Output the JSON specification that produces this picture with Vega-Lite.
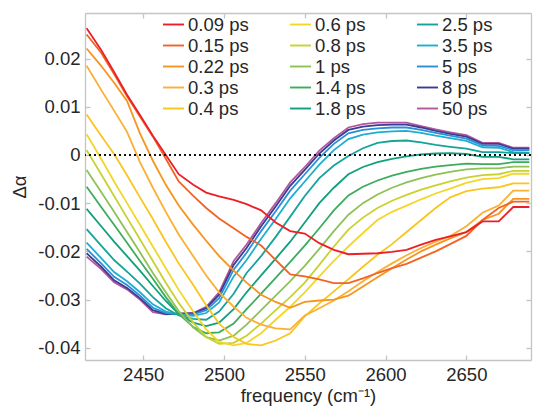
{
"$schema": "https://vega.github.io/schema/vega-lite/v6.json",
"width": 446, "height": 347,
"autosize": "none",
"padding": {"left": 85, "top": 13, "right": 2, "bottom": 47},
"background": "white",
"config": {
  "view": {"stroke": null},
  "font": "Liberation Sans",
  "axis": {"domainColor": "#c4c4c4", "domainWidth": 1.3, "tickColor": "#c4c4c4", "tickWidth": 1.3, "tickSize": -5, "grid": false,
           "labelFont": "Liberation Sans", "labelFontSize": 18.5, "labelColor": "#262626",
           "titleFont": "Liberation Sans", "titleFontSize": 18.5, "titleFontWeight": "normal", "titleColor": "#262626"}
},
"datasets": {"d": [
{"t":"50 ps","f":2415,"v":-0.0211},{"t":"50 ps","f":2424,"v":-0.0237},{"t":"50 ps","f":2432,"v":-0.0264},{"t":"50 ps","f":2440,"v":-0.0279},{"t":"50 ps","f":2448,"v":-0.0300},{"t":"50 ps","f":2456,"v":-0.0326},{"t":"50 ps","f":2464,"v":-0.0331},{"t":"50 ps","f":2472,"v":-0.0329},{"t":"50 ps","f":2481,"v":-0.0328},{"t":"50 ps","f":2489,"v":-0.0315},{"t":"50 ps","f":2497,"v":-0.0285},{"t":"50 ps","f":2506,"v":-0.0220},{"t":"50 ps","f":2514,"v":-0.0186},{"t":"50 ps","f":2523,"v":-0.0141},{"t":"50 ps","f":2532,"v":-0.0100},{"t":"50 ps","f":2541,"v":-0.0057},{"t":"50 ps","f":2550,"v":-0.0025},{"t":"50 ps","f":2559,"v":0.0009},{"t":"50 ps","f":2568,"v":0.0035},{"t":"50 ps","f":2577,"v":0.0057},{"t":"50 ps","f":2586,"v":0.0064},{"t":"50 ps","f":2595,"v":0.0067},{"t":"50 ps","f":2604,"v":0.0067},{"t":"50 ps","f":2613,"v":0.0067},{"t":"50 ps","f":2622,"v":0.0060},{"t":"50 ps","f":2631,"v":0.0053},{"t":"50 ps","f":2640,"v":0.0047},{"t":"50 ps","f":2650,"v":0.0041},{"t":"50 ps","f":2660,"v":0.0025},{"t":"50 ps","f":2670,"v":0.0025},{"t":"50 ps","f":2679,"v":0.0015},{"t":"50 ps","f":2689,"v":0.0015},
{"t":"8 ps","f":2415,"v":-0.0204},{"t":"8 ps","f":2424,"v":-0.0232},{"t":"8 ps","f":2432,"v":-0.0260},{"t":"8 ps","f":2440,"v":-0.0276},{"t":"8 ps","f":2448,"v":-0.0297},{"t":"8 ps","f":2456,"v":-0.0322},{"t":"8 ps","f":2464,"v":-0.0330},{"t":"8 ps","f":2472,"v":-0.0330},{"t":"8 ps","f":2481,"v":-0.0329},{"t":"8 ps","f":2489,"v":-0.0318},{"t":"8 ps","f":2497,"v":-0.0290},{"t":"8 ps","f":2506,"v":-0.0228},{"t":"8 ps","f":2514,"v":-0.0193},{"t":"8 ps","f":2523,"v":-0.0148},{"t":"8 ps","f":2532,"v":-0.0107},{"t":"8 ps","f":2541,"v":-0.0064},{"t":"8 ps","f":2550,"v":-0.0031},{"t":"8 ps","f":2559,"v":0.0003},{"t":"8 ps","f":2568,"v":0.0030},{"t":"8 ps","f":2577,"v":0.0052},{"t":"8 ps","f":2586,"v":0.0059},{"t":"8 ps","f":2595,"v":0.0062},{"t":"8 ps","f":2604,"v":0.0063},{"t":"8 ps","f":2613,"v":0.0063},{"t":"8 ps","f":2622,"v":0.0057},{"t":"8 ps","f":2631,"v":0.0050},{"t":"8 ps","f":2640,"v":0.0044},{"t":"8 ps","f":2650,"v":0.0038},{"t":"8 ps","f":2660,"v":0.0023},{"t":"8 ps","f":2670,"v":0.0023},{"t":"8 ps","f":2679,"v":0.0013},{"t":"8 ps","f":2689,"v":0.0013},
{"t":"5 ps","f":2415,"v":-0.0195},{"t":"5 ps","f":2424,"v":-0.0225},{"t":"5 ps","f":2432,"v":-0.0253},{"t":"5 ps","f":2440,"v":-0.0270},{"t":"5 ps","f":2448,"v":-0.0292},{"t":"5 ps","f":2456,"v":-0.0317},{"t":"5 ps","f":2464,"v":-0.0328},{"t":"5 ps","f":2472,"v":-0.0331},{"t":"5 ps","f":2481,"v":-0.0331},{"t":"5 ps","f":2489,"v":-0.0322},{"t":"5 ps","f":2497,"v":-0.0297},{"t":"5 ps","f":2506,"v":-0.0238},{"t":"5 ps","f":2514,"v":-0.0203},{"t":"5 ps","f":2523,"v":-0.0158},{"t":"5 ps","f":2532,"v":-0.0117},{"t":"5 ps","f":2541,"v":-0.0074},{"t":"5 ps","f":2550,"v":-0.0040},{"t":"5 ps","f":2559,"v":-0.0006},{"t":"5 ps","f":2568,"v":0.0023},{"t":"5 ps","f":2577,"v":0.0045},{"t":"5 ps","f":2586,"v":0.0052},{"t":"5 ps","f":2595,"v":0.0055},{"t":"5 ps","f":2604,"v":0.0057},{"t":"5 ps","f":2613,"v":0.0057},{"t":"5 ps","f":2622,"v":0.0052},{"t":"5 ps","f":2631,"v":0.0046},{"t":"5 ps","f":2640,"v":0.0040},{"t":"5 ps","f":2650,"v":0.0034},{"t":"5 ps","f":2660,"v":0.0020},{"t":"5 ps","f":2670,"v":0.0019},{"t":"5 ps","f":2679,"v":0.0010},{"t":"5 ps","f":2689,"v":0.0010},
{"t":"3.5 ps","f":2415,"v":-0.0182},{"t":"3.5 ps","f":2424,"v":-0.0214},{"t":"3.5 ps","f":2432,"v":-0.0243},{"t":"3.5 ps","f":2440,"v":-0.0262},{"t":"3.5 ps","f":2448,"v":-0.0285},{"t":"3.5 ps","f":2456,"v":-0.0310},{"t":"3.5 ps","f":2464,"v":-0.0325},{"t":"3.5 ps","f":2472,"v":-0.0331},{"t":"3.5 ps","f":2481,"v":-0.0334},{"t":"3.5 ps","f":2489,"v":-0.0328},{"t":"3.5 ps","f":2497,"v":-0.0306},{"t":"3.5 ps","f":2506,"v":-0.0252},{"t":"3.5 ps","f":2514,"v":-0.0218},{"t":"3.5 ps","f":2523,"v":-0.0174},{"t":"3.5 ps","f":2532,"v":-0.0133},{"t":"3.5 ps","f":2541,"v":-0.0090},{"t":"3.5 ps","f":2550,"v":-0.0055},{"t":"3.5 ps","f":2559,"v":-0.0020},{"t":"3.5 ps","f":2568,"v":0.0010},{"t":"3.5 ps","f":2577,"v":0.0033},{"t":"3.5 ps","f":2586,"v":0.0042},{"t":"3.5 ps","f":2595,"v":0.0047},{"t":"3.5 ps","f":2604,"v":0.0049},{"t":"3.5 ps","f":2613,"v":0.0050},{"t":"3.5 ps","f":2622,"v":0.0046},{"t":"3.5 ps","f":2631,"v":0.0040},{"t":"3.5 ps","f":2640,"v":0.0035},{"t":"3.5 ps","f":2650,"v":0.0029},{"t":"3.5 ps","f":2660,"v":0.0016},{"t":"3.5 ps","f":2670,"v":0.0015},{"t":"3.5 ps","f":2679,"v":0.0006},{"t":"3.5 ps","f":2689,"v":0.0005},
{"t":"2.5 ps","f":2415,"v":-0.0154},{"t":"2.5 ps","f":2424,"v":-0.0188},{"t":"2.5 ps","f":2432,"v":-0.0218},{"t":"2.5 ps","f":2440,"v":-0.0242},{"t":"2.5 ps","f":2448,"v":-0.0267},{"t":"2.5 ps","f":2456,"v":-0.0295},{"t":"2.5 ps","f":2464,"v":-0.0318},{"t":"2.5 ps","f":2472,"v":-0.0333},{"t":"2.5 ps","f":2481,"v":-0.0340},{"t":"2.5 ps","f":2489,"v":-0.0342},{"t":"2.5 ps","f":2497,"v":-0.0325},{"t":"2.5 ps","f":2506,"v":-0.0288},{"t":"2.5 ps","f":2514,"v":-0.0245},{"t":"2.5 ps","f":2523,"v":-0.0210},{"t":"2.5 ps","f":2532,"v":-0.0170},{"t":"2.5 ps","f":2541,"v":-0.0128},{"t":"2.5 ps","f":2550,"v":-0.0085},{"t":"2.5 ps","f":2559,"v":-0.0048},{"t":"2.5 ps","f":2568,"v":-0.0022},{"t":"2.5 ps","f":2577,"v":-0.0002},{"t":"2.5 ps","f":2586,"v":0.0014},{"t":"2.5 ps","f":2595,"v":0.0025},{"t":"2.5 ps","f":2604,"v":0.0029},{"t":"2.5 ps","f":2613,"v":0.0030},{"t":"2.5 ps","f":2622,"v":0.0026},{"t":"2.5 ps","f":2631,"v":0.0021},{"t":"2.5 ps","f":2640,"v":0.0017},{"t":"2.5 ps","f":2650,"v":0.0013},{"t":"2.5 ps","f":2660,"v":0.0006},{"t":"2.5 ps","f":2670,"v":0.0006},{"t":"2.5 ps","f":2679,"v":0.0004},{"t":"2.5 ps","f":2689,"v":0.0004},
{"t":"1.8 ps","f":2415,"v":-0.0112},{"t":"1.8 ps","f":2424,"v":-0.0148},{"t":"1.8 ps","f":2432,"v":-0.0180},{"t":"1.8 ps","f":2440,"v":-0.0210},{"t":"1.8 ps","f":2448,"v":-0.0240},{"t":"1.8 ps","f":2456,"v":-0.0272},{"t":"1.8 ps","f":2464,"v":-0.0303},{"t":"1.8 ps","f":2472,"v":-0.0330},{"t":"1.8 ps","f":2481,"v":-0.0348},{"t":"1.8 ps","f":2489,"v":-0.0355},{"t":"1.8 ps","f":2497,"v":-0.0348},{"t":"1.8 ps","f":2506,"v":-0.0320},{"t":"1.8 ps","f":2514,"v":-0.0285},{"t":"1.8 ps","f":2523,"v":-0.0250},{"t":"1.8 ps","f":2532,"v":-0.0215},{"t":"1.8 ps","f":2541,"v":-0.0180},{"t":"1.8 ps","f":2550,"v":-0.0140},{"t":"1.8 ps","f":2559,"v":-0.0100},{"t":"1.8 ps","f":2568,"v":-0.0068},{"t":"1.8 ps","f":2577,"v":-0.0040},{"t":"1.8 ps","f":2586,"v":-0.0025},{"t":"1.8 ps","f":2595,"v":-0.0015},{"t":"1.8 ps","f":2604,"v":-0.0008},{"t":"1.8 ps","f":2613,"v":-0.0003},{"t":"1.8 ps","f":2622,"v":0.0001},{"t":"1.8 ps","f":2631,"v":0.0003},{"t":"1.8 ps","f":2640,"v":0.0004},{"t":"1.8 ps","f":2650,"v":0.0002},{"t":"1.8 ps","f":2660,"v":-0.0004},{"t":"1.8 ps","f":2670,"v":-0.0004},{"t":"1.8 ps","f":2679,"v":-0.0009},{"t":"1.8 ps","f":2689,"v":-0.0009},
{"t":"1.4 ps","f":2415,"v":-0.0066},{"t":"1.4 ps","f":2424,"v":-0.0108},{"t":"1.4 ps","f":2432,"v":-0.0145},{"t":"1.4 ps","f":2440,"v":-0.0182},{"t":"1.4 ps","f":2448,"v":-0.0220},{"t":"1.4 ps","f":2456,"v":-0.0257},{"t":"1.4 ps","f":2464,"v":-0.0295},{"t":"1.4 ps","f":2472,"v":-0.0330},{"t":"1.4 ps","f":2481,"v":-0.0357},{"t":"1.4 ps","f":2489,"v":-0.0370},{"t":"1.4 ps","f":2497,"v":-0.0368},{"t":"1.4 ps","f":2506,"v":-0.0350},{"t":"1.4 ps","f":2514,"v":-0.0320},{"t":"1.4 ps","f":2523,"v":-0.0288},{"t":"1.4 ps","f":2532,"v":-0.0255},{"t":"1.4 ps","f":2541,"v":-0.0222},{"t":"1.4 ps","f":2550,"v":-0.0188},{"t":"1.4 ps","f":2559,"v":-0.0152},{"t":"1.4 ps","f":2568,"v":-0.0115},{"t":"1.4 ps","f":2577,"v":-0.0084},{"t":"1.4 ps","f":2586,"v":-0.0066},{"t":"1.4 ps","f":2595,"v":-0.0053},{"t":"1.4 ps","f":2604,"v":-0.0043},{"t":"1.4 ps","f":2613,"v":-0.0035},{"t":"1.4 ps","f":2622,"v":-0.0029},{"t":"1.4 ps","f":2631,"v":-0.0024},{"t":"1.4 ps","f":2640,"v":-0.0021},{"t":"1.4 ps","f":2650,"v":-0.0018},{"t":"1.4 ps","f":2660,"v":-0.0019},{"t":"1.4 ps","f":2670,"v":-0.0019},{"t":"1.4 ps","f":2679,"v":-0.0015},{"t":"1.4 ps","f":2689,"v":-0.0015},
{"t":"1 ps","f":2415,"v":-0.0031},{"t":"1 ps","f":2424,"v":-0.0077},{"t":"1 ps","f":2432,"v":-0.0118},{"t":"1 ps","f":2440,"v":-0.0160},{"t":"1 ps","f":2448,"v":-0.0202},{"t":"1 ps","f":2456,"v":-0.0245},{"t":"1 ps","f":2464,"v":-0.0285},{"t":"1 ps","f":2472,"v":-0.0324},{"t":"1 ps","f":2481,"v":-0.0358},{"t":"1 ps","f":2489,"v":-0.0378},{"t":"1 ps","f":2497,"v":-0.0385},{"t":"1 ps","f":2506,"v":-0.0375},{"t":"1 ps","f":2514,"v":-0.0352},{"t":"1 ps","f":2523,"v":-0.0322},{"t":"1 ps","f":2532,"v":-0.0292},{"t":"1 ps","f":2541,"v":-0.0262},{"t":"1 ps","f":2550,"v":-0.0230},{"t":"1 ps","f":2559,"v":-0.0195},{"t":"1 ps","f":2568,"v":-0.0158},{"t":"1 ps","f":2577,"v":-0.0124},{"t":"1 ps","f":2586,"v":-0.0100},{"t":"1 ps","f":2595,"v":-0.0082},{"t":"1 ps","f":2604,"v":-0.0068},{"t":"1 ps","f":2613,"v":-0.0057},{"t":"1 ps","f":2622,"v":-0.0048},{"t":"1 ps","f":2631,"v":-0.0041},{"t":"1 ps","f":2640,"v":-0.0035},{"t":"1 ps","f":2650,"v":-0.0030},{"t":"1 ps","f":2660,"v":-0.0028},{"t":"1 ps","f":2670,"v":-0.0028},{"t":"1 ps","f":2679,"v":-0.0024},{"t":"1 ps","f":2689,"v":-0.0024},
{"t":"0.8 ps","f":2415,"v":0.0010},{"t":"0.8 ps","f":2424,"v":-0.0040},{"t":"0.8 ps","f":2432,"v":-0.0085},{"t":"0.8 ps","f":2440,"v":-0.0130},{"t":"0.8 ps","f":2448,"v":-0.0175},{"t":"0.8 ps","f":2456,"v":-0.0220},{"t":"0.8 ps","f":2464,"v":-0.0265},{"t":"0.8 ps","f":2472,"v":-0.0307},{"t":"0.8 ps","f":2481,"v":-0.0348},{"t":"0.8 ps","f":2489,"v":-0.0378},{"t":"0.8 ps","f":2497,"v":-0.0392},{"t":"0.8 ps","f":2506,"v":-0.0390},{"t":"0.8 ps","f":2514,"v":-0.0375},{"t":"0.8 ps","f":2523,"v":-0.0350},{"t":"0.8 ps","f":2532,"v":-0.0322},{"t":"0.8 ps","f":2541,"v":-0.0295},{"t":"0.8 ps","f":2550,"v":-0.0265},{"t":"0.8 ps","f":2559,"v":-0.0228},{"t":"0.8 ps","f":2568,"v":-0.0190},{"t":"0.8 ps","f":2577,"v":-0.0155},{"t":"0.8 ps","f":2586,"v":-0.0130},{"t":"0.8 ps","f":2595,"v":-0.0110},{"t":"0.8 ps","f":2604,"v":-0.0095},{"t":"0.8 ps","f":2613,"v":-0.0083},{"t":"0.8 ps","f":2622,"v":-0.0072},{"t":"0.8 ps","f":2631,"v":-0.0063},{"t":"0.8 ps","f":2640,"v":-0.0055},{"t":"0.8 ps","f":2650,"v":-0.0047},{"t":"0.8 ps","f":2660,"v":-0.0042},{"t":"0.8 ps","f":2670,"v":-0.0040},{"t":"0.8 ps","f":2679,"v":-0.0033},{"t":"0.8 ps","f":2689,"v":-0.0033},
{"t":"0.6 ps","f":2415,"v":0.0043},{"t":"0.6 ps","f":2424,"v":-0.0008},{"t":"0.6 ps","f":2432,"v":-0.0055},{"t":"0.6 ps","f":2440,"v":-0.0100},{"t":"0.6 ps","f":2448,"v":-0.0145},{"t":"0.6 ps","f":2456,"v":-0.0190},{"t":"0.6 ps","f":2464,"v":-0.0235},{"t":"0.6 ps","f":2472,"v":-0.0280},{"t":"0.6 ps","f":2481,"v":-0.0325},{"t":"0.6 ps","f":2489,"v":-0.0362},{"t":"0.6 ps","f":2497,"v":-0.0388},{"t":"0.6 ps","f":2506,"v":-0.0395},{"t":"0.6 ps","f":2514,"v":-0.0390},{"t":"0.6 ps","f":2523,"v":-0.0370},{"t":"0.6 ps","f":2532,"v":-0.0342},{"t":"0.6 ps","f":2541,"v":-0.0315},{"t":"0.6 ps","f":2550,"v":-0.0285},{"t":"0.6 ps","f":2559,"v":-0.0252},{"t":"0.6 ps","f":2568,"v":-0.0220},{"t":"0.6 ps","f":2577,"v":-0.0190},{"t":"0.6 ps","f":2586,"v":-0.0162},{"t":"0.6 ps","f":2595,"v":-0.0135},{"t":"0.6 ps","f":2604,"v":-0.0118},{"t":"0.6 ps","f":2613,"v":-0.0105},{"t":"0.6 ps","f":2622,"v":-0.0092},{"t":"0.6 ps","f":2631,"v":-0.0080},{"t":"0.6 ps","f":2640,"v":-0.0070},{"t":"0.6 ps","f":2650,"v":-0.0058},{"t":"0.6 ps","f":2660,"v":-0.0050},{"t":"0.6 ps","f":2670,"v":-0.0048},{"t":"0.6 ps","f":2679,"v":-0.0039},{"t":"0.6 ps","f":2689,"v":-0.0039},
{"t":"0.4 ps","f":2415,"v":0.0084},{"t":"0.4 ps","f":2424,"v":0.0040},{"t":"0.4 ps","f":2432,"v":0.0002},{"t":"0.4 ps","f":2440,"v":-0.0042},{"t":"0.4 ps","f":2448,"v":-0.0088},{"t":"0.4 ps","f":2456,"v":-0.0133},{"t":"0.4 ps","f":2464,"v":-0.0180},{"t":"0.4 ps","f":2472,"v":-0.0225},{"t":"0.4 ps","f":2481,"v":-0.0270},{"t":"0.4 ps","f":2489,"v":-0.0312},{"t":"0.4 ps","f":2497,"v":-0.0350},{"t":"0.4 ps","f":2506,"v":-0.0378},{"t":"0.4 ps","f":2514,"v":-0.0392},{"t":"0.4 ps","f":2523,"v":-0.0395},{"t":"0.4 ps","f":2532,"v":-0.0385},{"t":"0.4 ps","f":2541,"v":-0.0370},{"t":"0.4 ps","f":2550,"v":-0.0335},{"t":"0.4 ps","f":2559,"v":-0.0308},{"t":"0.4 ps","f":2568,"v":-0.0283},{"t":"0.4 ps","f":2577,"v":-0.0258},{"t":"0.4 ps","f":2586,"v":-0.0232},{"t":"0.4 ps","f":2595,"v":-0.0207},{"t":"0.4 ps","f":2604,"v":-0.0185},{"t":"0.4 ps","f":2613,"v":-0.0160},{"t":"0.4 ps","f":2622,"v":-0.0135},{"t":"0.4 ps","f":2631,"v":-0.0110},{"t":"0.4 ps","f":2640,"v":-0.0088},{"t":"0.4 ps","f":2650,"v":-0.0075},{"t":"0.4 ps","f":2660,"v":-0.0070},{"t":"0.4 ps","f":2670,"v":-0.0067},{"t":"0.4 ps","f":2679,"v":-0.0059},{"t":"0.4 ps","f":2689,"v":-0.0059},
{"t":"0.3 ps","f":2415,"v":0.0185},{"t":"0.3 ps","f":2424,"v":0.0135},{"t":"0.3 ps","f":2432,"v":0.0092},{"t":"0.3 ps","f":2440,"v":0.0048},{"t":"0.3 ps","f":2448,"v":-0.0015},{"t":"0.3 ps","f":2456,"v":-0.0068},{"t":"0.3 ps","f":2464,"v":-0.0118},{"t":"0.3 ps","f":2472,"v":-0.0165},{"t":"0.3 ps","f":2481,"v":-0.0210},{"t":"0.3 ps","f":2489,"v":-0.0250},{"t":"0.3 ps","f":2497,"v":-0.0285},{"t":"0.3 ps","f":2506,"v":-0.0315},{"t":"0.3 ps","f":2514,"v":-0.0338},{"t":"0.3 ps","f":2523,"v":-0.0352},{"t":"0.3 ps","f":2532,"v":-0.0360},{"t":"0.3 ps","f":2541,"v":-0.0362},{"t":"0.3 ps","f":2550,"v":-0.0333},{"t":"0.3 ps","f":2559,"v":-0.0318},{"t":"0.3 ps","f":2568,"v":-0.0302},{"t":"0.3 ps","f":2577,"v":-0.0283},{"t":"0.3 ps","f":2586,"v":-0.0262},{"t":"0.3 ps","f":2595,"v":-0.0243},{"t":"0.3 ps","f":2604,"v":-0.0225},{"t":"0.3 ps","f":2613,"v":-0.0208},{"t":"0.3 ps","f":2622,"v":-0.0193},{"t":"0.3 ps","f":2631,"v":-0.0180},{"t":"0.3 ps","f":2640,"v":-0.0168},{"t":"0.3 ps","f":2650,"v":-0.0148},{"t":"0.3 ps","f":2660,"v":-0.0120},{"t":"0.3 ps","f":2670,"v":-0.0105},{"t":"0.3 ps","f":2679,"v":-0.0074},{"t":"0.3 ps","f":2689,"v":-0.0074},
{"t":"0.22 ps","f":2415,"v":0.0221},{"t":"0.22 ps","f":2424,"v":0.0185},{"t":"0.22 ps","f":2432,"v":0.0150},{"t":"0.22 ps","f":2440,"v":0.0112},{"t":"0.22 ps","f":2448,"v":0.0045},{"t":"0.22 ps","f":2456,"v":-0.0012},{"t":"0.22 ps","f":2464,"v":-0.0062},{"t":"0.22 ps","f":2472,"v":-0.0105},{"t":"0.22 ps","f":2481,"v":-0.0145},{"t":"0.22 ps","f":2489,"v":-0.0178},{"t":"0.22 ps","f":2497,"v":-0.0210},{"t":"0.22 ps","f":2506,"v":-0.0240},{"t":"0.22 ps","f":2514,"v":-0.0265},{"t":"0.22 ps","f":2523,"v":-0.0290},{"t":"0.22 ps","f":2532,"v":-0.0305},{"t":"0.22 ps","f":2541,"v":-0.0317},{"t":"0.22 ps","f":2550,"v":-0.0305},{"t":"0.22 ps","f":2559,"v":-0.0302},{"t":"0.22 ps","f":2568,"v":-0.0300},{"t":"0.22 ps","f":2577,"v":-0.0292},{"t":"0.22 ps","f":2586,"v":-0.0273},{"t":"0.22 ps","f":2595,"v":-0.0254},{"t":"0.22 ps","f":2604,"v":-0.0235},{"t":"0.22 ps","f":2613,"v":-0.0217},{"t":"0.22 ps","f":2622,"v":-0.0200},{"t":"0.22 ps","f":2631,"v":-0.0186},{"t":"0.22 ps","f":2640,"v":-0.0173},{"t":"0.22 ps","f":2650,"v":-0.0160},{"t":"0.22 ps","f":2660,"v":-0.0135},{"t":"0.22 ps","f":2670,"v":-0.0122},{"t":"0.22 ps","f":2679,"v":-0.0091},{"t":"0.22 ps","f":2689,"v":-0.0091},
{"t":"0.15 ps","f":2415,"v":0.0250},{"t":"0.15 ps","f":2424,"v":0.0212},{"t":"0.15 ps","f":2432,"v":0.0168},{"t":"0.15 ps","f":2440,"v":0.0122},{"t":"0.15 ps","f":2448,"v":0.0080},{"t":"0.15 ps","f":2456,"v":0.0038},{"t":"0.15 ps","f":2464,"v":-0.0008},{"t":"0.15 ps","f":2472,"v":-0.0055},{"t":"0.15 ps","f":2481,"v":-0.0085},{"t":"0.15 ps","f":2489,"v":-0.0110},{"t":"0.15 ps","f":2497,"v":-0.0132},{"t":"0.15 ps","f":2506,"v":-0.0152},{"t":"0.15 ps","f":2514,"v":-0.0170},{"t":"0.15 ps","f":2523,"v":-0.0188},{"t":"0.15 ps","f":2532,"v":-0.0218},{"t":"0.15 ps","f":2541,"v":-0.0248},{"t":"0.15 ps","f":2550,"v":-0.0252},{"t":"0.15 ps","f":2559,"v":-0.0258},{"t":"0.15 ps","f":2568,"v":-0.0266},{"t":"0.15 ps","f":2577,"v":-0.0266},{"t":"0.15 ps","f":2586,"v":-0.0256},{"t":"0.15 ps","f":2595,"v":-0.0245},{"t":"0.15 ps","f":2604,"v":-0.0235},{"t":"0.15 ps","f":2613,"v":-0.0226},{"t":"0.15 ps","f":2622,"v":-0.0213},{"t":"0.15 ps","f":2631,"v":-0.0200},{"t":"0.15 ps","f":2640,"v":-0.0185},{"t":"0.15 ps","f":2650,"v":-0.0168},{"t":"0.15 ps","f":2660,"v":-0.0135},{"t":"0.15 ps","f":2670,"v":-0.0110},{"t":"0.15 ps","f":2679,"v":-0.0097},{"t":"0.15 ps","f":2689,"v":-0.0097},
{"t":"0.09 ps","f":2415,"v":0.0263},{"t":"0.09 ps","f":2424,"v":0.0218},{"t":"0.09 ps","f":2432,"v":0.0172},{"t":"0.09 ps","f":2440,"v":0.0125},{"t":"0.09 ps","f":2448,"v":0.0083},{"t":"0.09 ps","f":2456,"v":0.0040},{"t":"0.09 ps","f":2464,"v":0.0000},{"t":"0.09 ps","f":2472,"v":-0.0040},{"t":"0.09 ps","f":2481,"v":-0.0062},{"t":"0.09 ps","f":2489,"v":-0.0078},{"t":"0.09 ps","f":2497,"v":-0.0086},{"t":"0.09 ps","f":2506,"v":-0.0093},{"t":"0.09 ps","f":2514,"v":-0.0102},{"t":"0.09 ps","f":2523,"v":-0.0115},{"t":"0.09 ps","f":2532,"v":-0.0140},{"t":"0.09 ps","f":2541,"v":-0.0158},{"t":"0.09 ps","f":2550,"v":-0.0163},{"t":"0.09 ps","f":2559,"v":-0.0183},{"t":"0.09 ps","f":2568,"v":-0.0197},{"t":"0.09 ps","f":2577,"v":-0.0206},{"t":"0.09 ps","f":2586,"v":-0.0205},{"t":"0.09 ps","f":2595,"v":-0.0204},{"t":"0.09 ps","f":2604,"v":-0.0201},{"t":"0.09 ps","f":2613,"v":-0.0197},{"t":"0.09 ps","f":2622,"v":-0.0186},{"t":"0.09 ps","f":2631,"v":-0.0176},{"t":"0.09 ps","f":2640,"v":-0.0169},{"t":"0.09 ps","f":2650,"v":-0.0160},{"t":"0.09 ps","f":2660,"v":-0.0138},{"t":"0.09 ps","f":2670,"v":-0.0138},{"t":"0.09 ps","f":2679,"v":-0.0108},{"t":"0.09 ps","f":2689,"v":-0.0108}
]},
"data": {"name": "d"},
"layer": [
  {
    "mark": {"type": "line", "strokeWidth": 1.8},
    "encoding": {
      "x": {"field": "f", "type": "quantitative", "scale": {"domain": [2414, 2690], "nice": false, "zero": false},
            "axis": {"orient": "bottom", "values": [2450, 2500, 2550, 2600, 2650], "format": "d", "labelPadding": 10, "title": "frequency (cm\u207b\u00b9)", "titlePadding": 3}},
      "y": {"field": "v", "type": "quantitative", "scale": {"domain": [-0.04255, 0.02946], "nice": false, "zero": false},
            "axis": {"orient": "left", "values": [-0.04, -0.03, -0.02, -0.01, 0, 0.01, 0.02], "labelExpr": "datum.value === 0 ? '0' : replace(format(datum.value, '.2f'), '\u2212', '-')", "labelPadding": 10, "title": "\u0394\u03b1", "titlePadding": 8}},
      "color": {"field": "t", "type": "nominal",
        "scale": {"domain": ["0.09 ps","0.15 ps","0.22 ps","0.3 ps","0.4 ps","0.6 ps","0.8 ps","1 ps","1.4 ps","1.8 ps","2.5 ps","3.5 ps","5 ps","8 ps","50 ps"],
                  "range": ["#ec1f26","#f26324","#f7941d","#fbaf34","#f8c61f","#f3d626","#c8d22f","#8ec255","#3dac5c","#10a07b","#16a39b","#1eaed4","#2b8fd5","#3c3a94","#b3579c"]},
        "legend": {"orient": "none", "legendX": 77, "legendY": 0, "columns": 3, "gridAlign": "all", "columnPadding": 37, "rowPadding": 0,
                   "symbolType": "stroke", "symbolSize": 441, "symbolStrokeWidth": 1.9, "labelFontSize": 18.5, "labelFont": "Liberation Sans",
                   "labelColor": "#262626", "labelOffset": 3, "padding": 0, "title": null}},
      "strokeWidth": {"condition": [{"test": "datum.t === '50 ps'", "value": 3.2}, {"test": "datum.t === '0.09 ps'", "value": 2.2}], "value": 1.8}
    }
  },
  {
    "mark": {"type": "rule", "strokeDash": [2, 3], "color": "#111111", "strokeWidth": 1.5},
    "encoding": {"y": {"datum": 0, "type": "quantitative", "axis": null}}
  },
  {
    "mark": {"type": "point", "opacity": 0},
    "encoding": {
      "x": {"field": "f", "type": "quantitative", "scale": {"domain": [2414, 2690], "nice": false, "zero": false},
            "axis": {"orient": "top", "values": [2450, 2500, 2550, 2600, 2650], "labels": false, "title": null}},
      "y": {"field": "v", "type": "quantitative", "scale": {"domain": [-0.04255, 0.02946], "nice": false, "zero": false},
            "axis": {"orient": "right", "values": [-0.04, -0.03, -0.02, -0.01, 0, 0.01, 0.02], "labels": false, "title": null}}
    }
  }
],
"resolve": {"axis": {"x": "independent", "y": "independent"}}
}
